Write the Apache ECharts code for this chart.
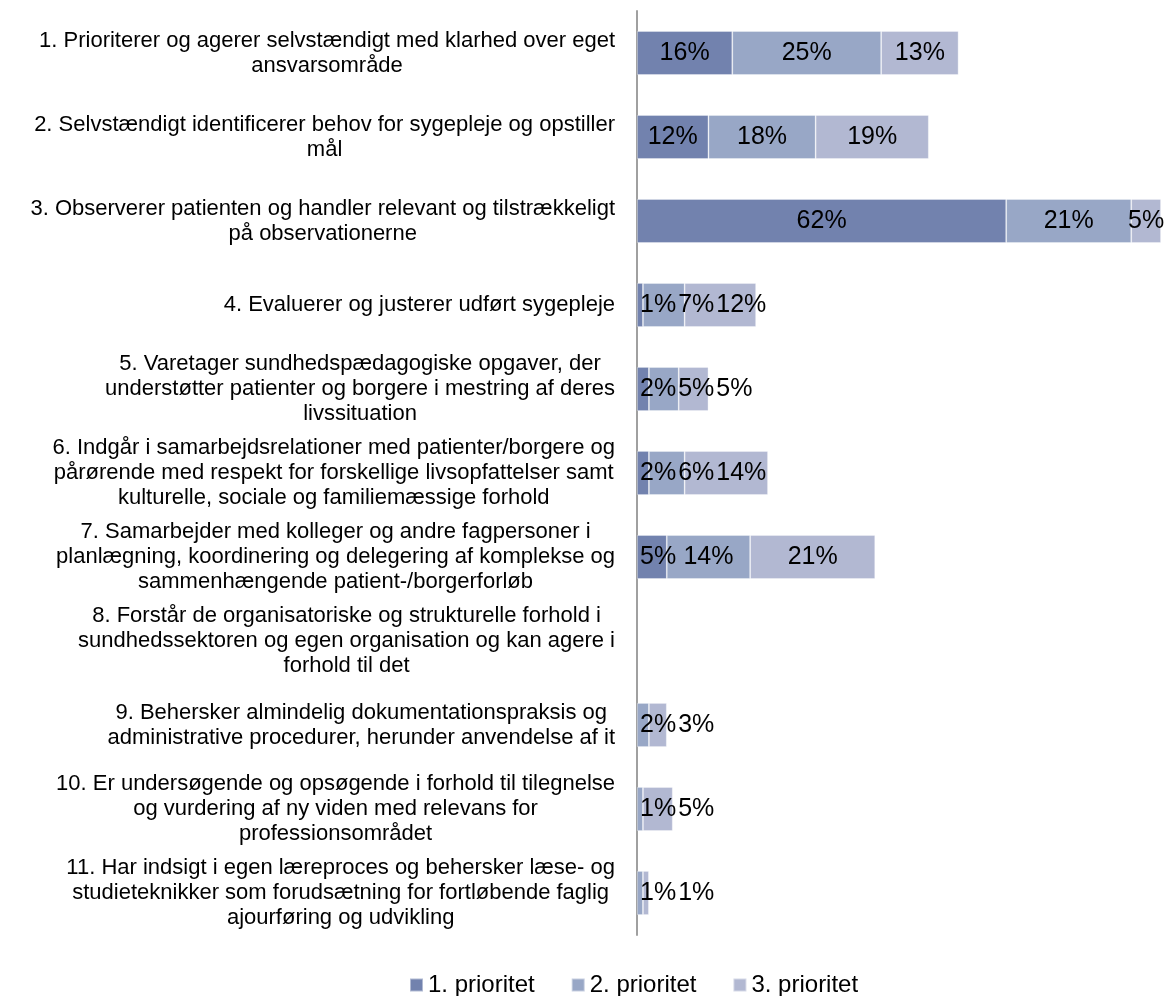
<!DOCTYPE html>
<html>
<head>
<meta charset="utf-8">
<script src="https://cdn.jsdelivr.net/npm/echarts@6/dist/echarts.min.js"></script>
<style>
  html, body { margin: 0; padding: 0; background: #fff; }
  #chart { width: 1165px; height: 996px; }
</style>
</head>
<body>
<div id="chart"></div>
<script>
// Competence areas (top to bottom), line breaks as they wrap on the axis
const categories = [
  '1. Prioriterer og agerer selvstændigt med klarhed over eget\nansvarsområde',
  '2. Selvstændigt identificerer behov for sygepleje og opstiller\nmål',
  '3. Observerer patienten og handler relevant og tilstrækkeligt\npå observationerne',
  '4. Evaluerer og justerer udført sygepleje',
  '5. Varetager sundhedspædagogiske opgaver, der\nunderstøtter patienter og borgere i mestring af deres\nlivssituation',
  '6. Indgår i samarbejdsrelationer med patienter/borgere og\npårørende med respekt for forskellige livsopfattelser samt\nkulturelle, sociale og familiemæssige forhold',
  '7. Samarbejder med kolleger og andre fagpersoner i\nplanlægning, koordinering og delegering af komplekse og\nsammenhængende patient-/borgerforløb',
  '8. Forstår de organisatoriske og strukturelle forhold i\nsundhedssektoren og egen organisation og kan agere i\nforhold til det',
  '9. Behersker almindelig dokumentationspraksis og\nadministrative procedurer, herunder anvendelse af it',
  '10. Er undersøgende og opsøgende i forhold til tilegnelse\nog vurdering af ny viden med relevans for\nprofessionsområdet',
  '11. Har indsigt i egen læreproces og behersker læse- og\nstudieteknikker som forudsætning for fortløbende faglig\najourføring og udvikling'
];

const seriesNames = ['1. prioritet', '2. prioritet', '3. prioritet'];

// Share (%) of answers per priority
const prioritet1 = [16, 12, 62, 1, 2, 2, 5, null, null, null, null];
const prioritet2 = [25, 18, 21, 7, 5, 6, 14, null, 2, 1, 1];
const prioritet3 = [13, 19, 5, 12, 5, 14, 21, null, 3, 5, 1];

const seriesValues = [prioritet1, prioritet2, prioritet3];
const colors = ['#7282AE', '#98A7C6', '#B2B8D2'];

const FONT = '"Liberation Sans", Arial, Helvetica, sans-serif';
const LABEL_SIZE = 25;

const chart = echarts.init(document.getElementById('chart'), null, { renderer: 'canvas' });

// text width helper for the value labels
const measureCtx = document.createElement('canvas').getContext('2d');
measureCtx.font = LABEL_SIZE + 'px ' + FONT;
function textWidth(t) { return measureCtx.measureText(t).width; }
function pct(v) { return Math.round(v) + '%'; }

// Value labels sit centred on their segment; when a segment is too narrow
// they are pushed to the right so that neighbours do not collide.
function rowLabelLefts(row) {
  const axisX = chart.convertToPixel({ gridIndex: 0 }, [0, row])[0];
  const lefts = [];
  let cum = 0;
  let prevRight = null;
  for (let s = 0; s < seriesValues.length; s++) {
    const v = seriesValues[s][row];
    if (v == null || v === 0) { lefts.push(null); continue; }
    const w = textWidth(pct(v));
    const cx = chart.convertToPixel({ gridIndex: 0 }, [cum + v / 2, row])[0];
    let left = cx - w / 2;
    const minLeft = prevRight == null ? axisX + 3 : prevRight + 2;
    if (left < minLeft) left = minLeft;
    lefts.push(left);
    prevRight = left + w;
    cum += v;
  }
  return lefts;
}

function makeLayout(s) {
  return function (params) {
    const lefts = rowLabelLefts(params.dataIndex);
    const left = lefts[s];
    if (left == null) return {};
    return {
      x: left,
      y: params.rect.y + params.rect.height / 2,
      align: 'left',
      verticalAlign: 'middle'
    };
  };
}

const series = seriesValues.map((vals, s) => ({
  name: seriesNames[s],
  type: 'bar',
  stack: 'total',
  barWidth: 44,
  data: vals,
  itemStyle: {
    color: colors[s],
    borderColor: 'rgba(255,255,255,0.45)',
    borderWidth: 0.8
  },
  label: {
    show: true,
    position: 'inside',
    formatter: p => (p.value == null ? '' : pct(p.value)),
    color: '#000',
    fontSize: LABEL_SIZE,
    fontFamily: FONT
  },
  labelLayout: makeLayout(s),
  emphasis: { disabled: true },
  animation: false
}));

const option = {
  backgroundColor: '#fff',
  animation: false,
  textStyle: { fontFamily: FONT },
  grid: { left: 637, right: 4, top: 11, bottom: 61, containLabel: false },
  legend: {
    data: seriesNames,
    left: 404,
    top: 968,
    icon: 'rect',
    itemWidth: 13,
    itemHeight: 13,
    itemGap: 36,
    textStyle: { fontSize: 24, color: '#000', fontFamily: FONT },
    selectedMode: false
  },
  xAxis: {
    type: 'value',
    min: 0,
    max: 88,
    show: false
  },
  yAxis: {
    type: 'category',
    data: categories,
    inverse: true,
    axisLine: { show: true, lineStyle: { color: '#A0A0A0', width: 2 } },
    axisTick: { show: false },
    splitLine: { show: false },
    axisLabel: {
      interval: 0,
      margin: 22,
      align: 'right',
      formatter: v => v.split('\n').map(l => '{c|' + l + '}').join('\n'),
      rich: {
        c: {
          align: 'center',
          fontSize: 22,
          lineHeight: 25,
          color: '#000',
          fontFamily: FONT
        }
      }
    }
  },
  series: series
};

chart.setOption(option);
</script>
</body>
</html>
